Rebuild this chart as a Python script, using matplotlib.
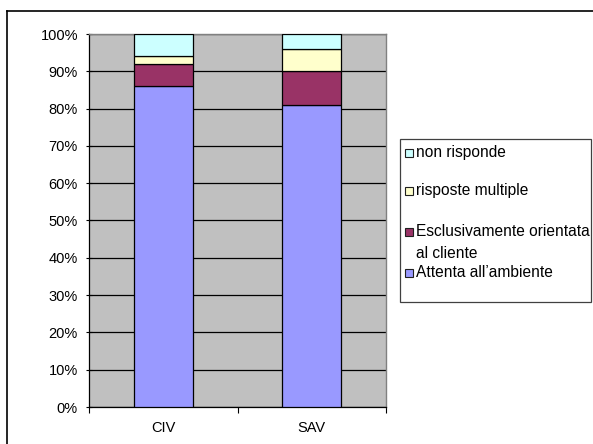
import matplotlib
matplotlib.use("Agg")
import matplotlib.pyplot as plt
from matplotlib.patches import Rectangle
from matplotlib.lines import Line2D
from matplotlib.ticker import PercentFormatter

plt.rcParams["font.family"] = ["Liberation Sans", "DejaVu Sans"]

categories = ["CIV", "SAV"]
series_names = ["Attenta all\u2019ambiente", "Esclusivamente orientata\nal cliente",
                "risposte multiple", "non risponde"]
attenta = [86, 81]
esclusiva = [6, 9]
multiple = [2, 6]
non_risponde = [6, 4]
colors = ["#9999FF", "#993366", "#FFFFCC", "#CCFFFF"]

fig = plt.figure(figsize=(5.93, 4.44), dpi=100)
W, H = 593, 444
ax = fig.add_axes([89 / W, 1 - 407 / H, (386 - 89) / W, (407 - 34) / H])
ax.set_facecolor("#C0C0C0")

x = list(range(len(categories)))
bottom = [0, 0]
for vals, col, name in zip([attenta, esclusiva, multiple, non_risponde], colors, series_names):
    ax.bar(x, vals, width=0.4, bottom=bottom, color=col, edgecolor="#000000",
           linewidth=0.9, label=name, zorder=3)
    bottom = [b + v for b, v in zip(bottom, vals)]

ax.set_xlim(-0.5, 1.5)
ax.set_ylim(0, 100)
ax.set_yticks(range(0, 101, 10))
ax.yaxis.set_major_formatter(PercentFormatter(decimals=0))
ax.set_xticks([-0.5, 0.5, 1.5])
ax.set_xticklabels([])
ax.set_xticks(x, minor=True)
ax.set_xticklabels(categories, minor=True)
ax.tick_params(axis="x", which="minor", length=0, pad=10, labelsize=10.5)
ax.tick_params(axis="x", which="major", length=4, direction="out", width=0.8)
ax.tick_params(axis="y", length=4, direction="inout", width=0.8, labelsize=10.5, pad=6)
ax.grid(axis="y", color="black", linewidth=0.9, zorder=1)
ax.set_axisbelow(True)
for side in ["top", "right"]:
    ax.spines[side].set_color("#808080")
    ax.spines[side].set_linewidth(1.0)
for side in ["left", "bottom"]:
    ax.spines[side].set_color("black")
    ax.spines[side].set_linewidth(0.9)

# legend drawn by hand to copy the uneven Excel spacing
fig.add_artist(Rectangle((400 / W, 1 - 302 / H), 191 / W, (302 - 139) / H,
                         transform=fig.transFigure, facecolor="white",
                         edgecolor="#404040", linewidth=0.9))
entry_y = [273, 232, 191, 153]  # pixel row of first text line, per series
for name, col, yy in zip(series_names, colors, entry_y):
    fig.add_artist(Rectangle((405 / W, 1 - (yy + 4) / H), 8 / W, 8 / H,
                             transform=fig.transFigure, facecolor=col,
                             edgecolor="#202020", linewidth=0.8))
    fig.text(416 / W, 1 - (yy - 8) / H, name, fontsize=11.2, va="top", ha="left",
             linespacing=1.6)

# outer chart frame
fig.add_artist(Line2D([7 / W, 7 / W], [0, 1 - 11 / H], color="black", linewidth=1.2))
fig.add_artist(Line2D([7 / W, 1], [1 - 11 / H, 1 - 11 / H], color="black", linewidth=1.2))

fig.savefig("out.png", dpi=100)
